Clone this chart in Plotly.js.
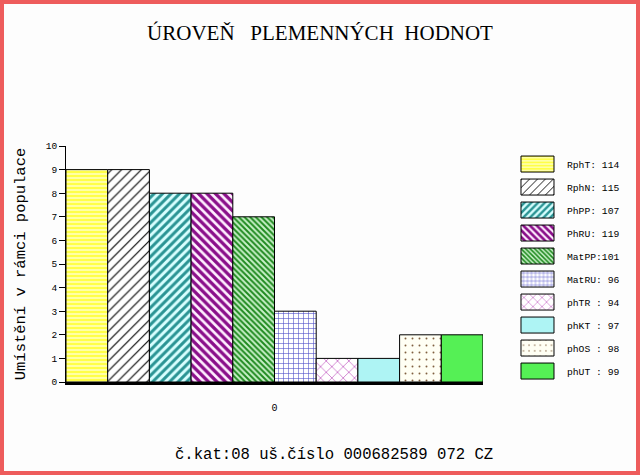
<!DOCTYPE html>
<html>
<head>
<meta charset="utf-8">
<script src="https://cdn.plot.ly/plotly-3.0.1.min.js"></script>
<style>
  html, body { margin: 0; padding: 0; background: #ffffff; }
  #frame { box-sizing: border-box; width: 640px; height: 475px; border: 4px solid #ee5c5c; background: #fdfdfd; }
  #chart { width: 632px; height: 467px; }
</style>
</head>
<body>
<div id="frame"><div id="chart"></div></div>
<script>
// ---- data ----
const category = ['0'];
const seriesNames = ['RphT', 'RphN', 'PhPP', 'PhRU', 'MatPP', 'MatRU', 'phTR', 'phKT', 'phOS', 'phUT'];
const legendLabels = ['RphT: 114', 'RphN: 115', 'PhPP: 107', 'PhRU: 119', 'MatPP:101', 'MatRU: 96', 'phTR : 94', 'phKT : 97', 'phOS : 98', 'phUT : 99'];
const placements = [9, 9, 8, 8, 7, 3, 1, 1, 2, 2];
const yTickValues = [0, 1, 2, 3, 4, 5, 6, 7, 8, 9, 10];

const chartTitle = 'ÚROVEŇ\u00a0\u00a0\u00a0PLEMENNÝCH\u00a0\u00a0HODNOT';
const yTitle = 'Umístění v rámci populace';
const footer = 'č.kat:08 uš.číslo 000682589 072 CZ';

// ---- styles ----
const patterns = [
  {shape: '-',  fgcolor: '#ffff48', bgcolor: '#ffffd0', size: 4, solidity: 0.65},
  {shape: '/',  fgcolor: '#000000', bgcolor: '#ffffff', size: 7, solidity: 0.16},
  {shape: '/',  fgcolor: '#2a9494', bgcolor: '#d8ffff', size: 6, solidity: 0.5},
  {shape: '\\', fgcolor: '#8a0f8a', bgcolor: '#fff0ff', size: 6, solidity: 0.55},
  {shape: '\\', fgcolor: '#1f8a1f', bgcolor: '#c8f0c8', size: 4, solidity: 0.5},
  {shape: '+',  fgcolor: '#5050c8', bgcolor: '#ffffff', size: 5, solidity: 0.22},
  {shape: 'x',  fgcolor: '#cc77cc', bgcolor: '#ffffff', size: 8, solidity: 0.2},
  {shape: '-',  fgcolor: '#90eaea', bgcolor: '#ccffff', size: 2, solidity: 0.5},
  {shape: '.',  fgcolor: '#806040', bgcolor: '#fffff4', size: 7, solidity: 0.06},
  {shape: '',   fgcolor: '#55f055', bgcolor: '#55f055', size: 8, solidity: 0.3}
];
const solidColors = ['#ffff48', '#ffffff', '#d8ffff', '#fff0ff', '#c8f0c8', '#ffffff', '#ffffff', '#ccffff', '#fffff4', '#55f055'];

const MONO = 'Liberation Mono, DejaVu Sans Mono, monospace';

const traces = seriesNames.map((s, i) => ({
  type: 'bar',
  x: category,
  y: [placements[i]],
  name: legendLabels[i],
  legendgroup: s,
  marker: {
    color: solidColors[i],
    pattern: patterns[i],
    line: {color: '#000000', width: 1}
  },
  hoverinfo: 'skip'
}));

const layout = {
  width: 632,
  height: 467,
  paper_bgcolor: '#fdfdfd',
  plot_bgcolor: '#fdfdfd',
  margin: {l: 62, r: 152, t: 142, b: 89},
  barmode: 'group',
  bargap: 0,
  bargroupgap: 0,
  showlegend: true,
  title: {
    text: chartTitle,
    font: {family: 'Liberation Serif, serif', size: 21, color: '#000000'},
    xref: 'container', x: 0.5, xanchor: 'center',
    yref: 'container', y: 0.938, yanchor: 'middle'
  },
  xaxis: {
    type: 'category',
    showline: true, linecolor: '#000000', linewidth: 2.5,
    ticks: '', showgrid: false, zeroline: false,
    tickfont: {family: MONO, size: 10, color: '#000000'},
    ticklabelstandoff: 14
  },
  yaxis: {
    range: [0, 10],
    tickvals: yTickValues,
    ticks: 'outside', ticklen: 6, tickcolor: '#000000', tickwidth: 1,
    showline: true, linecolor: '#000000', linewidth: 1,
    showgrid: false, zeroline: false,
    tickfont: {family: MONO, size: 9.5, color: '#000000'},
    title: {text: yTitle, font: {family: MONO, size: 15.5, color: '#000000'}, standoff: 16}
  },
  legend: {
    x: 1.0574, xanchor: 'left',
    y: 0.985, yanchor: 'top',
    itemwidth: 49,
    tracegroupgap: 4,
    traceorder: 'grouped',
    font: {family: MONO, size: 9.7, color: '#000000'},
    bgcolor: 'rgba(0,0,0,0)', borderwidth: 0
  },
  annotations: [{
    text: footer,
    xref: 'paper', yref: 'paper',
    x: 0.643, y: -0.309, xanchor: 'center', yanchor: 'middle',
    showarrow: false,
    font: {family: MONO, size: 15.6, color: '#000000'}
  }]
};

function enlargeLegendBoxes() {
  document.querySelectorAll('#chart .legendpoints path').forEach(p => {
    p.setAttribute('d', 'M16.5,8H-16.5V-8H16.5Z');
  });
}

Plotly.newPlot('chart', traces, layout, {displayModeBar: false, staticPlot: true}).then(enlargeLegendBoxes);
</script>
</body>
</html>
